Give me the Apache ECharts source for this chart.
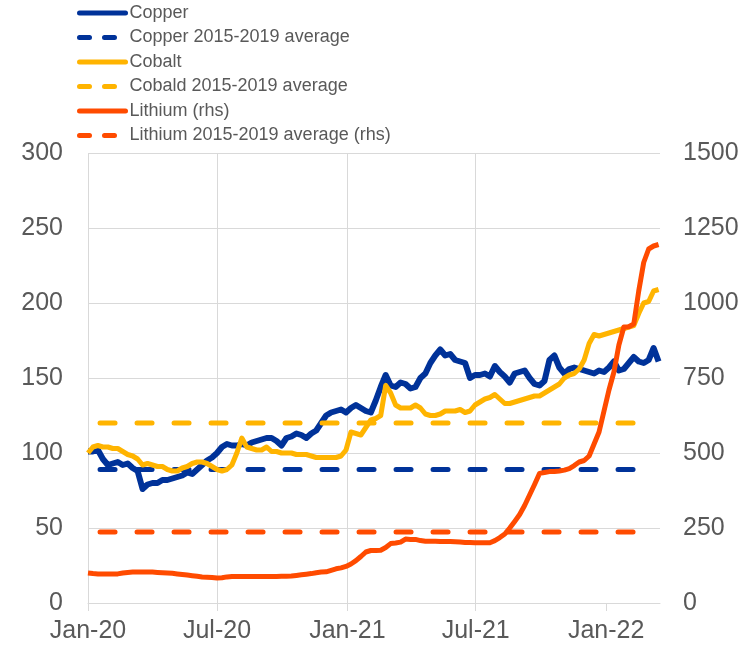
<!DOCTYPE html>
<html>
<head>
<meta charset="utf-8">
<script src="https://cdn.jsdelivr.net/npm/echarts@6/dist/echarts.min.js"></script>
<style>
  html, body { margin: 0; padding: 0; background: #fff; }
  #chart { width: 750px; height: 649px; }
</style>
</head>
<body>
<div id="chart"></div>
<script>
// weekly samples from 1 Jan 2020 (index 0 = day 0, step 7 days)
var copper = [101, 101, 102, 96, 92, 93, 94, 92, 93, 90,
  88, 76, 79, 80, 80, 82, 82, 83, 84, 85,
  87, 86, 89, 92, 95, 97, 100, 104, 106, 105,
  105, 106, 105, 107, 108, 109, 110, 110, 108, 105,
  110, 111, 113, 112, 110, 113, 115, 120, 125, 127,
  128, 129, 127, 130, 132, 130, 128, 127, 135, 144,
  152, 145, 144, 147, 146, 143, 144, 150, 153, 160,
  165, 169, 165, 166, 162, 161, 160, 150, 152, 152,
  153, 151, 158, 154, 151, 147, 153, 154, 155, 150,
  146, 145, 148, 162, 165, 157, 153, 156, 157, 156,
  155, 154, 153, 155, 154, 157, 161, 155, 156, 160,
  164, 161, 160, 162, 170, 161];

var cobalt = [100, 104, 105, 104, 104, 103, 103, 101, 99, 98,
  96, 92, 93, 92, 91, 91, 89, 88, 88, 90,
  91, 93, 94, 94, 93, 91, 89, 88, 89, 92,
  100, 110, 104, 103, 102, 102, 104, 101, 101, 100,
  100, 100, 99, 99, 99, 98, 97, 97, 97, 97,
  97, 98, 102, 114, 113, 112, 117, 122, 123, 125,
  145, 140, 132, 130, 130, 130, 132, 130, 126, 125,
  125, 126, 128, 128, 128, 129, 127, 128, 132, 134,
  136, 137, 139, 136, 133, 133, 134, 135, 136, 137,
  138, 138, 140, 142, 144, 146, 150, 152, 153, 156,
  162, 173, 179, 178, 179, 180, 181, 182, 183, 184,
  185, 193, 200, 201, 208, 209];

var lithium = [100, 98, 97, 97, 97, 97, 97, 100, 102, 103,
  103, 103, 103, 103, 102, 101, 100, 99, 97, 95,
  93, 91, 89, 87, 86, 85, 83, 84, 87, 88,
  88, 88, 88, 88, 88, 88, 88, 88, 88, 89,
  89, 90, 92, 94, 96, 98, 101, 103, 104, 109,
  114, 117, 122, 130, 141, 155, 170, 175, 175, 176,
  185, 198, 200, 203, 213, 212, 212, 208, 206, 206,
  206, 205, 205, 205, 204, 203, 202, 202, 201, 201,
  201, 201, 208, 218, 230, 250, 272, 295, 325, 360,
  395, 432, 435, 438, 438, 440, 443, 448, 458, 470,
  475, 490, 530, 570, 640, 710, 770, 860, 920, 921,
  930, 1040, 1135, 1180, 1190, 1195];

// 2015-2019 averages (copper, cobalt on lhs; lithium on rhs)
var copperAvg = 89;
var cobaltAvg = 120;
var lithiumAvg = 237;
var avgSpan = [17, 776];

var xLabels = ['Jan-20', 'Jul-20', 'Jan-21', 'Jul-21', 'Jan-22'];
var xTickDays = [0, 182, 366, 547, 731];

var names = ['Copper', 'Copper 2015-2019 average', 'Cobalt', 'Cobald 2015-2019 average',
  'Lithium (rhs)', 'Lithium 2015-2019 average (rhs)'];

var blue = '#003299', yellow = '#FFB400', orange = '#FF4B00';
var txt = '#595959', grid = '#d9d9d9';

function weekly(arr) {
  return arr.map(function (v, i) { return [i * 7, v]; });
}
function flat(v) {
  return [[avgSpan[0], v], [avgSpan[1], v]];
}
function label(v) {
  for (var i = 0; i < xTickDays.length; i++) {
    if (Math.abs(xTickDays[i] - v) < 2) return xLabels[i];
  }
  return '';
}

var chart = echarts.init(document.getElementById('chart'), null, {renderer: 'canvas'});
var tickFont = {fontFamily: "'Liberation Sans', Arial, sans-serif", fontSize: 25, color: txt};

function solid(name, data, color, width, axis) {
  return {
    name: name, type: 'line', data: data, yAxisIndex: axis,
    symbol: 'none', showSymbol: false, animation: false,
    lineStyle: {color: color, width: width, join: 'round'},
    itemStyle: {color: color}
  };
}
function dashed(name, data, color, axis) {
  return {
    name: name, type: 'line', data: data, yAxisIndex: axis,
    symbol: 'none', showSymbol: false, animation: false,
    lineStyle: {color: color, width: 5, type: [15, 22], cap: 'round'},
    itemStyle: {color: color}
  };
}

var dashIcon = {width: 5, type: [10, 15], cap: 'round'};
var solidIcon = {width: 5, type: 'solid', cap: 'round'};

chart.setOption({
  backgroundColor: '#fff',
  animation: false,
  legend: {
    orient: 'vertical',
    left: 77,
    top: 3,
    itemWidth: 46,
    itemHeight: 14,
    itemGap: 4.5,
    padding: 0,
    itemStyle: {opacity: 0},
    data: names.map(function (n, i) {
      return {name: n, lineStyle: i % 2 ? dashIcon : solidIcon};
    }),
    textStyle: {
      fontFamily: "'Liberation Sans Narrow', 'Arial Narrow', 'Liberation Sans', Arial, sans-serif",
      fontSize: 18, lineHeight: 20, color: txt, padding: [0, 0, 0, -1]
    }
  },
  grid: {left: 88, right: 90, top: 153, bottom: 46},
  xAxis: {
    type: 'value',
    min: 0, max: 807, interval: 182.6,
    axisLine: {show: true, lineStyle: {color: grid, width: 1}},
    axisTick: {show: true, length: 8, lineStyle: {color: grid}, customValues: xTickDays},
    axisLabel: Object.assign({margin: 16, formatter: label, customValues: xTickDays}, tickFont),
    splitLine: {show: true, showMaxLine: false, lineStyle: {color: grid, width: 1}}
  },
  yAxis: [{
    type: 'value', min: 0, max: 300, interval: 50,
    axisLine: {show: false}, axisTick: {show: false},
    axisLabel: Object.assign({margin: 25, formatter: function (v) { return String(v); }}, tickFont),
    splitLine: {show: true, lineStyle: {color: grid, width: 1}}
  }, {
    type: 'value', min: 0, max: 1500, interval: 250,
    axisLine: {show: false}, axisTick: {show: false},
    axisLabel: Object.assign({margin: 23, formatter: function (v) { return String(v); }}, tickFont),
    splitLine: {show: false}
  }],
  series: [
    solid(names[0], weekly(copper), blue, 6, 0),
    dashed(names[1], flat(copperAvg), blue, 0),
    solid(names[2], weekly(cobalt), yellow, 5, 0),
    dashed(names[3], flat(cobaltAvg), yellow, 0),
    solid(names[4], weekly(lithium), orange, 5, 1),
    dashed(names[5], flat(lithiumAvg), orange, 1)
  ]
});
</script>
</body>
</html>
